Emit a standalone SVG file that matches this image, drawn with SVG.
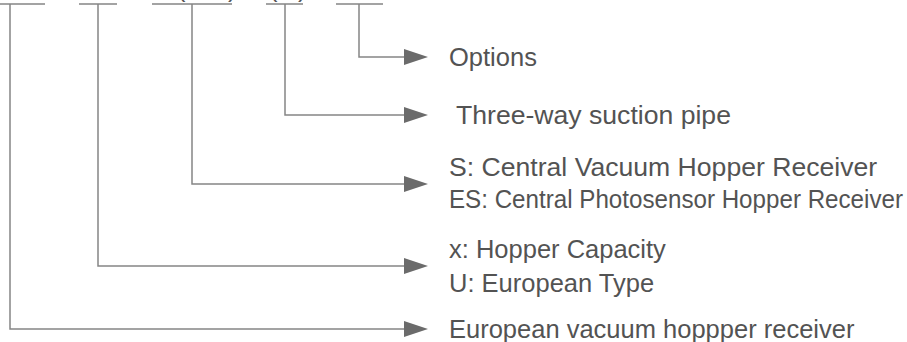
<svg xmlns="http://www.w3.org/2000/svg" width="907" height="342" viewBox="0 0 907 342">
  <style>
    .ln { fill: none; stroke: #858585; stroke-width: 1.5; }
    .lb { font-family: "Liberation Sans", Arial, sans-serif; font-size: 25.5px; fill: #535353; }
    .lg { font-size: 26.6px; }
  </style>
  <defs>
    <marker id="ah" markerUnits="userSpaceOnUse" markerWidth="24" markerHeight="16" refX="0" refY="8" orient="auto">
      <path d="M0,0 L24,8 L0,16 Z" fill="#6b6b6b"/>
    </marker>
  </defs>
  <rect width="907" height="342" fill="#ffffff"/>
  <g id="code">
    <path class="ln" d="M0,4 H45 M79,4 H117 M152,4 H232 M266,4 H303 M336,4 H383"/>
    <text class="lb" x="177" y="-3.5">(</text>
    <text class="lb" x="228" y="-3.5">)</text>
    <text class="lb" x="269" y="-3.5">(</text>
    <text class="lb" x="298" y="-3.5">)</text>
  </g>
  <g id="connectors">
    <path class="ln" d="M359,4 V57 H404" marker-end="url(#ah)"/>
    <path class="ln" d="M285,4 V115 H404" marker-end="url(#ah)"/>
    <path class="ln" d="M192,4 V184 H404" marker-end="url(#ah)"/>
    <path class="ln" d="M98,4 V266 H404" marker-end="url(#ah)"/>
    <path class="ln" d="M10,4 V329 H404" marker-end="url(#ah)"/>
  </g>
  <g id="options"><text class="lb" x="449" y="66">Options</text></g>
  <g id="suction"><text class="lb lg" x="456" y="124">Three-way suction pipe</text></g>
  <g id="receiver-type">
    <text class="lb lg" x="449" y="176">S: Central Vacuum Hopper Receiver</text>
    <text class="lb" x="449" y="208" textLength="454" lengthAdjust="spacingAndGlyphs">ES: Central Photosensor Hopper Receiver</text>
  </g>
  <g id="capacity">
    <text class="lb" x="449" y="258">x: Hopper Capacity</text>
    <text class="lb" x="449" y="292">U: European Type</text>
  </g>
  <g id="european"><text class="lb" x="449" y="338">European vacuum hoppper receiver</text></g>
</svg>
